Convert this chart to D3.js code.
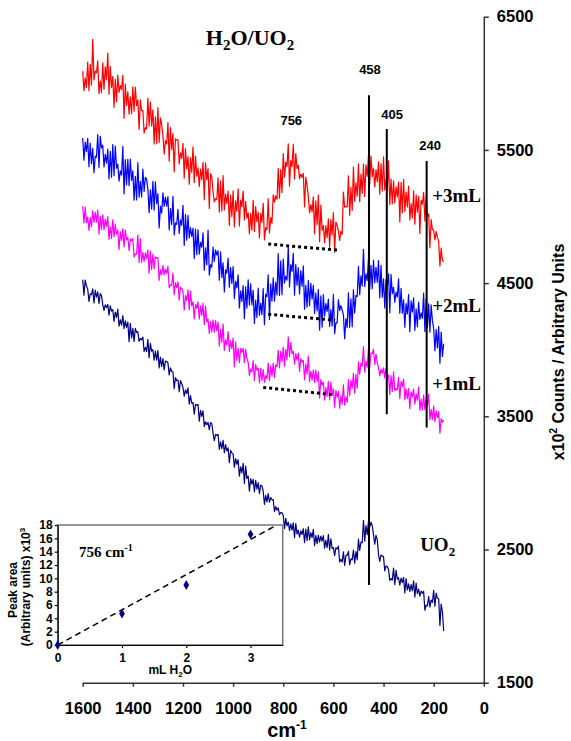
<!DOCTYPE html>
<html>
<head>
<meta charset="utf-8">
<script src="https://cdn.jsdelivr.net/npm/d3@7"></script>
<style>
	body { margin: 0; background: #fff; }
	svg { display: block; }
	text { font-family: "Liberation Sans", Arial, sans-serif; font-weight: bold; fill: #000; }
	.serif { font-family: "Liberation Serif", "Times New Roman", serif; }
</style>
</head>
<body>
<div id="chart"></div>
<script>

/////////////////////////////////////////////////////////
//////////////////////// Data ///////////////////////////
/////////////////////////////////////////////////////////

//Raman shift of every sample (cm-1), shared by all four spectra
const wavenumbers = [
	1600,1595,1590,1585,1580,1575,1570,1565,1560,1555,1550,1545,1540,1535,1530,1525,1520,1515,1510,1505,
	1500,1495,1490,1485,1480,1475,1470,1465,1460,1455,1450,1445,1440,1435,1430,1425,1420,1415,1410,1405,
	1400,1395,1390,1385,1380,1375,1370,1365,1360,1355,1350,1345,1340,1335,1330,1325,1320,1315,1310,1305,
	1300,1295,1290,1285,1280,1275,1270,1265,1260,1255,1250,1245,1240,1235,1230,1225,1220,1215,1210,1205,
	1200,1195,1190,1185,1180,1175,1170,1165,1160,1155,1150,1145,1140,1135,1130,1125,1120,1115,1110,1105,
	1100,1095,1090,1085,1080,1075,1070,1065,1060,1055,1050,1045,1040,1035,1030,1025,1020,1015,1010,1005,
	1000,995,990,985,980,975,970,965,960,955,950,945,940,935,930,925,920,915,910,905,
	900,895,890,885,880,875,870,865,860,855,850,845,840,835,830,825,820,815,810,805,
	800,795,790,785,780,775,770,765,760,755,750,745,740,735,730,725,720,715,710,705,
	700,695,690,685,680,675,670,665,660,655,650,645,640,635,630,625,620,615,610,605,
	600,595,590,585,580,575,570,565,560,555,550,545,540,535,530,525,520,515,510,505,
	500,495,490,485,480,475,470,465,460,455,450,445,440,435,430,425,420,415,410,405,
	400,395,390,385,380,375,370,365,360,355,350,345,340,335,330,325,320,315,310,305,
	300,295,290,285,280,275,270,265,260,255,250,245,240,235,230,225,220,215,210,205,
	200,195,190,185,180,175,170,165,160];

//+3mL H2O
const plus3mL = [
	6091,5945,6040,5970,6160,5945,6142,5987,6330,6025,6091,6079,6168,5922,6017,5930,6154,5956,6124,6025,
	6227,5918,6128,5967,6050,5820,6029,5860,6061,5932,5983,5953,6060,5737,5994,5834,5935,5768,5898,5771,
	5973,5791,5972,5831,5875,5654,5875,5794,5796,5626,5667,5657,5888,5680,5859,5680,5801,5544,5748,5546,
	5817,5555,5740,5692,5611,5469,5570,5543,5706,5415,5668,5504,5624,5334,5583,5573,5576,5395,5477,5437,
	5550,5288,5509,5358,5450,5242,5441,5332,5523,5254,5454,5303,5366,5225,5355,5276,5407,5125,5403,5276,
	5360,5061,5322,5298,5182,5110,5134,5127,5290,5034,5267,5042,5307,5049,5168,5098,5190,4932,5160,5001,
	5192,4922,5117,5038,5208,4928,5123,5073,5191,4974,5114,4988,5028,4870,5024,4897,5122,4888,5075,4961,
	5032,4840,5024,4957,5099,4824,4916,4900,5134,4876,4991,4949,5162,5107,5154,5130,5361,5138,5352,5180,
	5472,5295,5408,5375,5545,5228,5420,5374,5542,5281,5472,5360,5386,5283,5318,5294,5324,5072,5296,5230,
	5152,5027,5090,5034,5147,4870,5118,4939,5161,4811,5086,4896,4932,4802,4931,4842,4983,4769,4977,4861,
	5030,4732,4958,4935,4894,4821,4888,4866,5184,5070,5076,5072,5306,5009,5218,5045,5371,5114,5252,5153,
	5396,5110,5319,5173,5394,5150,5388,5302,5458,5245,5454,5300,5362,5222,5352,5262,5411,5168,5395,5192,
	5447,5198,5278,5199,5417,5090,5280,5094,5267,5102,5222,5147,5258,4958,5257,5028,5279,5038,5184,5072,
	5226,4974,5097,4990,5192,4942,5162,5032,5152,4872,5122,5092,5181,4966,5156,5002,5019,4765,4977,4901,
	4898,4824,4886,4843,4815,4628,4762,4670,4660];

//+2mL H2O
const plus2mL = [
	5590,5423,5558,5487,5587,5373,5550,5396,5511,5329,5453,5445,5614,5367,5602,5515,5535,5372,5467,5400,
	5506,5282,5490,5294,5540,5306,5529,5362,5393,5266,5343,5310,5527,5169,5428,5238,5430,5232,5430,5271,
	5342,5123,5302,5124,5404,5145,5264,5146,5356,5188,5294,5281,5204,5028,5201,5056,5264,5048,5261,5096,
	5171,4914,5078,5026,5177,5076,5146,5078,5150,4899,5060,4940,5152,4862,4952,4941,5054,4873,4974,4934,
	5084,4783,5015,4822,5008,4839,4916,4850,4912,4684,4905,4713,4900,4718,4806,4769,4877,4596,4765,4636,
	4898,4560,4638,4619,4770,4662,4750,4711,4743,4522,4734,4542,4652,4433,4600,4574,4687,4469,4616,4498,
	4623,4384,4513,4464,4562,4313,4442,4362,4482,4233,4471,4312,4524,4335,4494,4336,4446,4197,4372,4242,
	4463,4258,4348,4264,4459,4188,4417,4398,4562,4226,4494,4365,4540,4364,4507,4411,4722,4407,4667,4412,
	4681,4500,4552,4522,4776,4472,4639,4588,4724,4409,4639,4484,4616,4418,4594,4477,4629,4304,4484,4319,
	4520,4330,4499,4380,4483,4272,4424,4291,4451,4146,4404,4169,4413,4252,4346,4288,4380,4174,4301,4178,
	4416,4120,4204,4202,4377,4294,4331,4298,4261,4083,4234,4167,4427,4168,4382,4172,4450,4275,4406,4400,
	4626,4412,4554,4479,4754,4474,4569,4519,4688,4453,4634,4458,4672,4502,4619,4506,4669,4389,4634,4394,
	4532,4314,4528,4479,4570,4276,4565,4420,4469,4356,4432,4394,4532,4273,4460,4274,4374,4168,4346,4269,
	4413,4135,4366,4284,4390,4144,4306,4172,4358,4227,4276,4235,4424,4137,4385,4166,4344,4132,4336,4218,
	4160,3993,4152,4014,4175,3898,4132,3950,4045];

//+1mL H2O
const plus1mL = [
	5076,4952,5070,4954,4998,4895,4993,4926,5042,4955,5031,4958,5050,4867,5001,4904,5013,4900,4978,4926,
	5000,4828,4923,4836,4975,4848,4942,4868,4898,4752,4884,4821,4908,4772,4900,4825,4842,4745,4830,4818,
	4835,4696,4720,4718,4861,4654,4832,4656,4730,4662,4727,4684,4747,4574,4740,4602,4718,4609,4697,4688,
	4692,4521,4600,4560,4632,4562,4604,4573,4626,4466,4486,4485,4576,4413,4504,4467,4509,4372,4468,4460,
	4437,4296,4406,4368,4450,4300,4440,4329,4360,4230,4340,4311,4360,4230,4329,4258,4348,4189,4330,4208,
	4231,4122,4212,4132,4223,4132,4220,4141,4208,4027,4154,4056,4193,3995,4074,4034,4136,3987,4066,4008,
	4088,3870,4058,3919,4011,3902,4010,3980,4012,3902,4003,3934,3906,3806,3856,3835,3918,3769,3888,3847,
	3861,3752,3860,3770,3850,3754,3806,3782,3900,3767,3878,3801,3899,3792,3886,3872,3995,3864,3988,3911,
	4019,3877,4003,3924,4096,3948,4054,3970,3988,3891,3970,3922,3975,3837,3934,3906,3920,3774,3892,3817,
	3952,3760,3838,3771,3848,3754,3847,3761,3834,3636,3776,3735,3757,3622,3716,3650,3763,3624,3758,3657,
	3706,3568,3694,3641,3688,3561,3654,3590,3736,3584,3646,3605,3776,3654,3769,3712,3822,3674,3813,3710,
	3908,3817,3899,3876,4024,3831,3915,3868,4007,3866,3974,3970,4002,3887,3967,3902,3866,3804,3855,3822,
	3864,3787,3862,3790,3810,3662,3806,3687,3834,3693,3708,3698,3792,3634,3763,3722,3779,3624,3706,3632,
	3708,3557,3683,3644,3704,3591,3668,3620,3722,3545,3629,3546,3661,3549,3638,3580,3666,3474,3552,3475,
	3578,3460,3541,3489,3536,3374,3482,3455,3471];

//Dry UO2
const uo2 = [
	4526,4410,4522,4479,4456,4362,4419,4413,4456,4351,4448,4394,4434,4348,4421,4406,4338,4296,4337,4316,
	4340,4259,4330,4290,4301,4212,4283,4242,4304,4176,4224,4185,4256,4158,4216,4167,4208,4060,4198,4089,
	4161,4062,4160,4130,4134,4063,4084,4074,4095,3986,4017,3986,4078,3940,4048,3989,4000,3921,3990,3922,
	3993,3864,3944,3874,3933,3848,3915,3911,3902,3810,3864,3836,3834,3708,3791,3767,3772,3685,3768,3745,
	3716,3652,3698,3670,3713,3591,3656,3599,3604,3516,3590,3582,3588,3464,3545,3499,3541,3423,3459,3437,
	3455,3400,3452,3446,3372,3318,3364,3356,3365,3252,3309,3257,3319,3226,3288,3240,3263,3152,3244,3225,
	3216,3118,3182,3140,3174,3051,3120,3075,3147,2995,3126,3034,3051,2938,3032,2990,3027,2932,3020,2954,
	3002,2920,2984,2977,2938,2838,2907,2858,2919,2856,2890,2873,2874,2785,2822,2796,2812,2761,2778,2775,
	2756,2657,2734,2678,2705,2644,2693,2646,2700,2589,2695,2616,2646,2592,2640,2613,2656,2552,2654,2568,
	2670,2573,2626,2589,2652,2528,2605,2544,2609,2556,2600,2563,2605,2510,2568,2514,2613,2496,2580,2508,
	2514,2454,2513,2504,2525,2406,2426,2406,2482,2380,2457,2456,2486,2385,2430,2422,2496,2397,2485,2424,
	2578,2493,2556,2550,2719,2563,2680,2612,2712,2668,2705,2679,2612,2540,2606,2574,2464,2410,2458,2452,
	2445,2339,2376,2372,2350,2268,2282,2271,2360,2236,2344,2277,2288,2232,2285,2251,2290,2174,2282,2197,
	2242,2186,2237,2190,2264,2143,2248,2168,2202,2150,2188,2171,2187,2044,2082,2076,2147,2068,2121,2103,
	2193,2074,2172,2134,2132,1929,2090,2031,1888];

//Baselines under the 756 band: [wavenumber, counts] at both ends
const baseline3 = [[860, 4793], [585, 4748]];
const baseline2 = [[860, 4266], [593, 4221]];
const baseline1 = [[880, 3717], [605, 3663]];

//Band markers: where the line is drawn and how far it runs
const markerWn   = [458, 387, 228];
const markerTop  = [5911, 5656, 5417];
const markerBot  = [2234, 3516, 3416];
const peakLabels = ["756", "458", "405", "240"];

//Axis ticks
const xTicks = [1600, 1400, 1200, 1000, 800, 600, 400, 200, 0];
const yTicks = [1500, 2500, 3500, 4500, 5500, 6500];

//Inset: peak area of the 756 band against added water
const insetWater = [0, 1, 2, 3];
const insetArea  = [0, 4.7, 9, 16.6];
const insetFitX  = [0, 3.41];
const insetFitY  = [0, 18];
const insetXTicks = [0, 1, 2, 3];
const insetYTicks = [0, 2, 4, 6, 8, 10, 12, 14, 16, 18];

/////////////////////////////////////////////////////////
//////////// Create the container SVG and g /////////////
/////////////////////////////////////////////////////////

const width = 571, height = 741;

const svg = d3.select("#chart").append("svg")
	.attr("width", width)
	.attr("height", height);

const x = d3.scaleLinear().domain([1600, 0]).range([82.7, 483.8]);
const y = d3.scaleLinear().domain([1500, 6500]).range([682.7, 16.7]);

/////////////////////////////////////////////////////////
////////////////////// Axes /////////////////////////////
/////////////////////////////////////////////////////////

const xAxis = svg.append("g")
	.attr("transform", "translate(0," + y(1500) + ")")
	.call(d3.axisBottom(x).tickValues(xTicks).tickSize(4).tickSizeOuter(0).tickFormat(d3.format("d")));
xAxis.selectAll("text").style("font-size", "16.5px").attr("y", 20);

const yAxis = svg.append("g")
	.attr("transform", "translate(" + x(0) + ",0)")
	.call(d3.axisRight(y).tickValues(yTicks).tickSize(5).tickSizeOuter(0).tickFormat(d3.format("d")));
yAxis.selectAll("text").style("font-size", "16.5px").attr("x", 13);

svg.selectAll(".domain, .tick line")
	.style("stroke", "#333")
	.style("stroke-width", "1.5px");

//x axis title, cm-1
svg.append("text")
	.attr("x", 287)
	.attr("y", 737)
	.attr("text-anchor", "middle")
	.style("font-size", "20px")
	.text("cm")
	.append("tspan")
	.attr("dy", -8)
	.style("font-size", "12px")
	.text("-1");

//y axis title on the right
const yTitle = svg.append("text")
	.attr("transform", "translate(564,352) rotate(-90)")
	.attr("text-anchor", "middle")
	.style("font-size", "16px");
yTitle.append("tspan").text("x10");
yTitle.append("tspan").attr("dy", -7).style("font-size", "10px").text("2");
yTitle.append("tspan").attr("dy", 7).text(" Counts / Arbitrary Units");

/////////////////////////////////////////////////////////
///////////////////// Spectra ///////////////////////////
/////////////////////////////////////////////////////////

const spectra = [
	{ values: uo2,     color: "#000080" },
	{ values: plus1mL, color: "#FF00FF" },
	{ values: plus2mL, color: "#0000FF" },
	{ values: plus3mL, color: "#FF0000" }
];

const line = d3.line()
	.x(d => x(d[0]))
	.y(d => y(d[1]));

svg.selectAll(".spectrum")
	.data(spectra)
	.enter().append("path")
	.attr("class", "spectrum")
	.attr("d", d => line(d.values.map((v, i) => [wavenumbers[i], v])))
	.style("fill", "none")
	.style("stroke", d => d.color)
	.style("stroke-width", "1.2px")
	.style("stroke-linejoin", "round");

//Dotted baselines
svg.selectAll(".baseline")
	.data([baseline3, baseline2, baseline1])
	.enter().append("path")
	.attr("class", "baseline")
	.attr("d", line)
	.style("fill", "none")
	.style("stroke", "#000")
	.style("stroke-width", "3px")
	.style("stroke-dasharray", "3,3");

//Band markers
svg.selectAll(".marker")
	.data(markerWn)
	.enter().append("line")
	.attr("class", "marker")
	.attr("x1", d => x(d))
	.attr("x2", d => x(d))
	.attr("y1", (d, i) => y(markerTop[i]))
	.attr("y2", (d, i) => y(markerBot[i]))
	.style("stroke", "#000")
	.style("stroke-width", "2px");

//Band labels
const peakLabelWn = [768, 454, 366, 214];
const peakLabelAt = [5688, 6072, 5733, 5499];
svg.selectAll(".peakLabel")
	.data(peakLabels)
	.enter().append("text")
	.attr("class", "peakLabel")
	.attr("x", (d, i) => x(peakLabelWn[i]))
	.attr("y", (d, i) => y(peakLabelAt[i]))
	.attr("text-anchor", "middle")
	.style("font-size", "13px")
	.text(d => d);

//Series labels
const seriesLabels = [
	{ text: "+3mL", wn: 206, at: 5108 },
	{ text: "+2mL", wn: 206, at: 4281 },
	{ text: "+1mL", wn: 206, at: 3694 }
];
svg.selectAll(".seriesLabel")
	.data(seriesLabels)
	.enter().append("text")
	.attr("class", "seriesLabel serif")
	.attr("x", d => x(d.wn))
	.attr("y", d => y(d.at))
	.style("font-size", "19px")
	.text(d => d.text);

const uoLabel = svg.append("text")
	.attr("class", "serif")
	.attr("x", x(254))
	.attr("y", y(2485))
	.style("font-size", "19px");
uoLabel.append("tspan").text("UO");
uoLabel.append("tspan").attr("dy", 5).style("font-size", "13px").text("2");

//Title
const title = svg.append("text")
	.attr("class", "serif")
	.attr("x", 250)
	.attr("y", 45)
	.attr("text-anchor", "middle")
	.style("font-size", "22px");
title.append("tspan").text("H");
title.append("tspan").attr("dy", 5).style("font-size", "15px").text("2");
title.append("tspan").attr("dy", -5).text("O/UO");
title.append("tspan").attr("dy", 5).style("font-size", "15px").text("2");

/////////////////////////////////////////////////////////
////////////////////// Inset ////////////////////////////
/////////////////////////////////////////////////////////

const xi = d3.scaleLinear().domain([0, 3.5]).range([57.7, 282.7]);
const yi = d3.scaleLinear().domain([0, 18]).range([645, 525]);

const inset = svg.append("g").attr("class", "inset");

//Frame (top and right edges in grey)
inset.append("rect")
	.attr("x", xi(0))
	.attr("y", yi(18))
	.attr("width", xi(3.5) - xi(0))
	.attr("height", yi(0) - yi(18))
	.style("fill", "#fff")
	.style("stroke", "#777")
	.style("stroke-width", "1.5px");

const xiAxis = inset.append("g")
	.attr("transform", "translate(0," + yi(0) + ")")
	.call(d3.axisBottom(xi).tickValues(insetXTicks).tickSize(3).tickSizeOuter(0).tickFormat(d3.format("d")));
const yiAxis = inset.append("g")
	.attr("transform", "translate(" + xi(0) + ",0)")
	.call(d3.axisLeft(yi).tickValues(insetYTicks).tickSize(3).tickSizeOuter(0).tickFormat(d3.format("d")));

inset.selectAll(".domain, .tick line")
	.style("stroke", "#000")
	.style("stroke-width", "1.2px");
inset.selectAll(".tick text").style("font-size", "12px");
xiAxis.selectAll("text").attr("y", 8);
yiAxis.selectAll("text").attr("x", -5);

//Linear fit
inset.append("path")
	.attr("d", line.x(d => xi(d[0])).y(d => yi(d[1]))(insetFitX.map((v, i) => [v, insetFitY[i]])))
	.style("fill", "none")
	.style("stroke", "#000")
	.style("stroke-width", "1.5px")
	.style("stroke-dasharray", "6,4");

//Measured peak areas
inset.selectAll(".insetPoint")
	.data(insetWater)
	.enter().append("path")
	.attr("class", "insetPoint")
	.attr("d", d3.symbol().type(d3.symbolDiamond).size(28))
	.attr("transform", (d, i) => "translate(" + xi(d) + "," + yi(insetArea[i]) + ")")
	.style("fill", "#000080");

//Inset labels
const bandLabel = inset.append("text")
	.attr("class", "serif")
	.attr("x", 79)
	.attr("y", 557)
	.style("font-size", "15px");
bandLabel.append("tspan").text("756 cm");
bandLabel.append("tspan").attr("dy", -6).style("font-size", "10px").text("-1");

const waterLabel = inset.append("text")
	.attr("x", xi(1.75))
	.attr("y", 674)
	.attr("text-anchor", "middle")
	.style("font-size", "12px");
waterLabel.append("tspan").text("mL H");
waterLabel.append("tspan").attr("dy", 3).style("font-size", "8px").text("2");
waterLabel.append("tspan").attr("dy", -3).text("O");

inset.append("text")
	.attr("transform", "translate(17,590) rotate(-90)")
	.attr("text-anchor", "middle")
	.style("font-size", "12px")
	.text("Peak area");

const areaLabel = inset.append("text")
	.attr("transform", "translate(30,587) rotate(-90)")
	.attr("text-anchor", "middle")
	.style("font-size", "12px");
areaLabel.append("tspan").text("(Arbitrary units) x10");
areaLabel.append("tspan").attr("dy", -5).style("font-size", "8px").text("3");

</script>
</body>
</html>
